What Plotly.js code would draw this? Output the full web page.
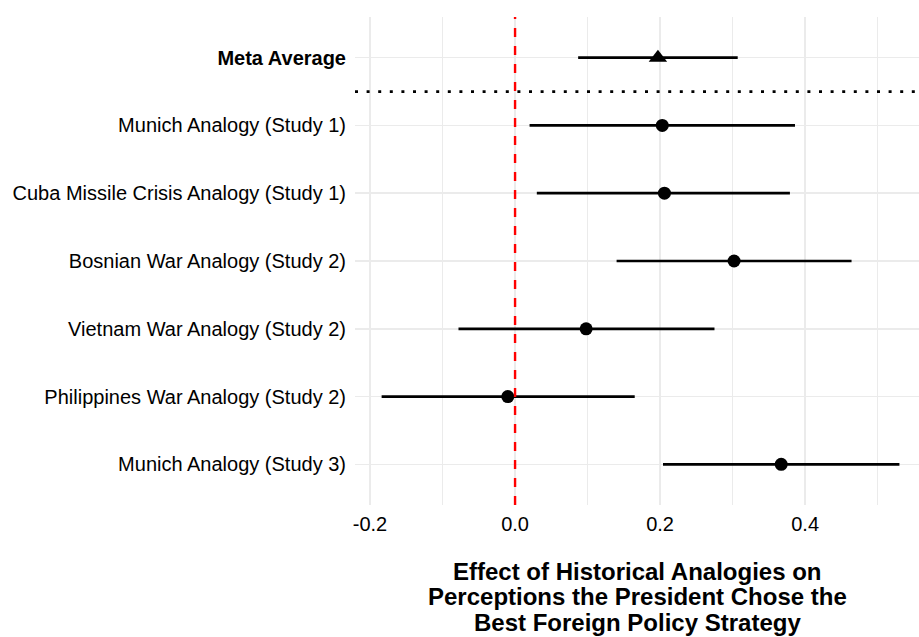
<!DOCTYPE html>
<html>
<head>
<meta charset="utf-8">
<script src="https://cdn.plot.ly/plotly-3.0.1.min.js"></script>
<style>html,body{margin:0;padding:0;background:#fff;}#chart{width:919px;height:637px;}</style>
</head>
<body>
<div id="chart"></div>
<script>
const categories = [
  "Meta Average",
  "Munich Analogy (Study 1)",
  "Cuba Missile Crisis Analogy (Study 1)",
  "Bosnian War Analogy (Study 2)",
  "Vietnam War Analogy (Study 2)",
  "Philippines War Analogy (Study 2)",
  "Munich Analogy (Study 3)"
];
const tickLabels = [
  "<b>Meta Average</b>",
  "Munich Analogy (Study 1)",
  "Cuba Missile Crisis Analogy (Study 1)",
  "Bosnian War Analogy (Study 2)",
  "Vietnam War Analogy (Study 2)",
  "Philippines War Analogy (Study 2)",
  "Munich Analogy (Study 3)"
];
const estimate = [0.197, 0.203, 0.206, 0.302, 0.098, -0.010, 0.367];
const lower    = [0.087, 0.020, 0.030, 0.140, -0.078, -0.184, 0.204];
const upper    = [0.307, 0.386, 0.379, 0.464, 0.275, 0.165, 0.530];
const xTicks = [-0.2, 0.0, 0.2, 0.4];
const xTickText = ["-0.2", "0.0", "0.2", "0.4"];
const titleLines = [
  "Effect of Historical Analogies on",
  "Perceptions the President Chose the",
  "Best Foreign Policy Strategy"
];

const idx = categories.map((c, i) => i);
const metaIdx = [0];
const studyIdx = idx.filter(i => i !== 0);

function makeTrace(ids, symbol, size) {
  return {
    type: "scatter",
    mode: "markers",
    x: ids.map(i => estimate[i]),
    y: ids.map(i => categories[i]),
    marker: {color: "black", size: size, symbol: symbol},
    error_x: {
      type: "data", symmetric: false,
      array: ids.map(i => upper[i] - estimate[i]),
      arrayminus: ids.map(i => estimate[i] - lower[i]),
      width: 0, thickness: 2.7, color: "black"
    },
    showlegend: false,
    hoverinfo: "x+y"
  };
}

const data = [makeTrace(studyIdx, "circle", 13), makeTrace(metaIdx, "triangle-up", 16)];

// plot area: top 17px, bottom 505px (height 488)
const titleY = [571, 597, 622].map(p => (505 - p) / 488);

const gridColor = "#ebebeb";
const layout = {
  width: 919, height: 637,
  margin: {l: 355, r: 0, t: 17, b: 132},
  paper_bgcolor: "#fff", plot_bgcolor: "#fff",
  font: {family: "Liberation Sans, Arial, sans-serif", color: "#000", size: 20},
  showlegend: false,
  xaxis: {
    range: [-0.2207, 0.557],
    tickvals: xTicks, ticktext: xTickText,
    showgrid: true, gridcolor: gridColor, gridwidth: 1.6,
    minor: {dtick: 0.1, tick0: 0.1, showgrid: true, gridcolor: gridColor, gridwidth: 1},
    zeroline: false, showline: false, ticks: "",
    ticklabelstandoff: 5,
    tickfont: {size: 20, color: "#000"},
    fixedrange: true
  },
  yaxis: {
    type: "category",
    categoryorder: "array", categoryarray: categories,
    tickvals: categories, ticktext: tickLabels,
    range: [6.6, -0.6],
    showgrid: true, gridcolor: gridColor, gridwidth: 1.6,
    zeroline: false, showline: false, ticks: "",
    ticklabelstandoff: 8,
    tickfont: {size: 20, color: "#000"},
    fixedrange: true
  },
  annotations: titleLines.map((t, i) => ({
    text: "<b>" + t + "</b>",
    xref: "paper", yref: "paper", x: 0.5, y: titleY[i],
    xanchor: "center", yanchor: "middle", showarrow: false,
    font: {size: 24, color: "#000"}
  })),
  shapes: [
    {type: "line", xref: "paper", yref: "y", x0: 0, x1: 1, y0: 0.5, y1: 0.5,
     line: {color: "#000", width: 2.8, dash: "3px,8.6px"}, layer: "above"},
    {type: "line", xref: "x", yref: "paper", x0: 0, x1: 0, y0: 0, y1: 1,
     line: {color: "#ff0000", width: 2.4, dash: "dash"}, layer: "above"}
  ]
};

Plotly.newPlot("chart", data, layout, {displayModeBar: false, staticPlot: true});
</script>
</body>
</html>
